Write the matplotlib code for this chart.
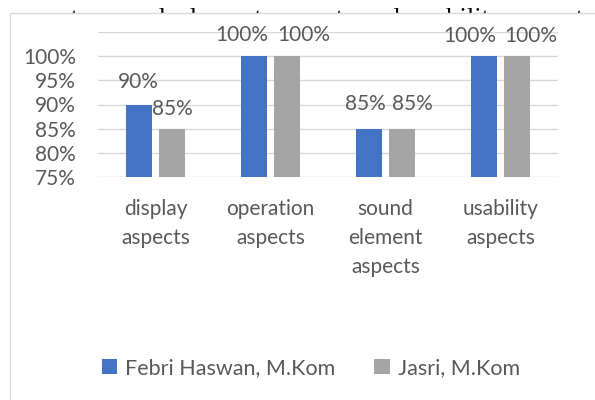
import matplotlib
matplotlib.use("Agg")
import matplotlib.pyplot as plt
from matplotlib.patches import Rectangle, Patch
from matplotlib.transforms import Bbox
import numpy as np

categories = ["display\naspects", "operation\naspects", "sound\nelement\naspects", "usability\naspects"]
series_names = ["Febri Haswan, M.Kom", "Jasri, M.Kom"]
febri = [90, 100, 85, 100]
jasri = [85, 100, 85, 100]
ytick_vals = [75, 80, 85, 90, 95, 100, 105]
ytick_labels = ["75%", "80%", "85%", "90%", "95%", "100%", ""]

# data-label placement (pixel offsets from bar top centre), as in the reference
febri_label_off = [(-1, 17), (-12, 15), (-4, 19), (-14, 14)]
jasri_label_off = [(0, 14), (17, 15), (10, 19), (14, 14)]

BLUE = "#4472C4"
GRAY = "#A5A5A5"
TXT = "#595959"
GRID = "#D9D9D9"
FONT = "Lato"

W, H = 595, 400
fig = plt.figure(figsize=(W / 100, H / 100), dpi=100)
fig.patch.set_facecolor("white")

# background document text, only its lower edge peeks out above the chart frame
doc_words = [("aspects,", 12), ("sound", 103), ("element", 178), ("aspects", 277),
             ("and", 362), ("usability", 412), ("aspects", 517)]
clip = Bbox.from_extents(0, H - 13, W, H)
for w, xp in doc_words:
    t = fig.text(xp / W, 1 - 25 / H, w, family="Liberation Serif", fontsize=19,
                 color="black", va="baseline", ha="left", zorder=-3)
    t.set_clip_box(clip)
    t.set_clip_on(True)

# chart frame
frame = Rectangle((10 / W, -0.05), 1.0, (H - 13) / H + 0.05, transform=fig.transFigure,
                  facecolor="white", edgecolor=GRID, linewidth=1.0, zorder=-1)
fig.patches.append(frame)

ax = fig.add_axes([98 / W, 1 - 177 / H, (558 - 98) / W, (177 - 32) / H])
ax.set_facecolor("none")
x = np.arange(len(categories))
bw = 0.226
off = 0.143
ax.bar(x - off, [v - 75 for v in febri], bw, bottom=75, color=BLUE, zorder=3)
ax.bar(x + off, [v - 75 for v in jasri], bw, bottom=75, color=GRAY, zorder=3)

PT = 0.72  # points per pixel at 100 dpi
for xs, vals, offs in ((x - off, febri, febri_label_off), (x + off, jasri, jasri_label_off)):
    for xi, v, (dx, dy) in zip(xs, vals, offs):
        ax.annotate(f"{v}%", (xi, v), xytext=(dx * PT, dy * PT), textcoords="offset points",
                    ha="center", va="baseline", fontsize=15, color=TXT, family=FONT,
                    zorder=4, annotation_clip=False)

ax.set_xlim(-0.5, 3.5)
ax.set_ylim(75, 105)
ax.set_yticks(ytick_vals)
ax.set_yticklabels(ytick_labels, fontsize=15, color=TXT, family=FONT)
ax.set_xticks(x)
ax.set_xticklabels(categories, fontsize=15, color=TXT, family=FONT, linespacing=1.56)
ax.tick_params(axis="both", length=0)
ax.tick_params(axis="y", pad=16)
ax.tick_params(axis="x", pad=16)
ax.grid(axis="y", color=GRID, linewidth=1.0, zorder=0)
for s in ax.spines.values():
    s.set_visible(False)

handles = [Patch(facecolor=BLUE, edgecolor="none"), Patch(facecolor=GRAY, edgecolor="none")]
leg = fig.legend(handles, series_names, loc="center", bbox_to_anchor=(311 / W, 1 - 368 / H),
                 ncol=2, frameon=False, handlelength=0.7, handleheight=0.7,
                 handletextpad=0.4, columnspacing=1.8,
                 prop={"family": FONT, "size": 15.5})
for t in leg.get_texts():
    t.set_color(TXT)

fig.savefig("out.png", dpi=100)
